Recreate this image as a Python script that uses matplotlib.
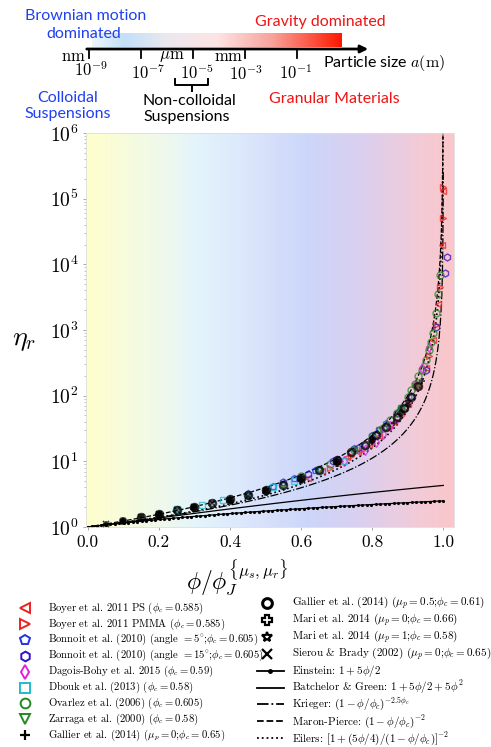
import numpy as np
import matplotlib
matplotlib.use('Agg')
import matplotlib.pyplot as plt
from matplotlib.colors import LinearSegmentedColormap

plt.rcParams['mathtext.fontset'] = 'cm'
plt.rcParams['font.family'] = 'serif'
plt.rcParams['font.serif'] = ['cmr10']
plt.rcParams['axes.formatter.use_mathtext'] = True

W, H = 491, 747

# --- data (x = phi/phi_J, y = eta_r) ---
boyer_ps_x = [0.62, 0.66, 0.70, 0.73, 0.76, 0.79, 0.82, 0.86, 0.88, 0.90, 0.93, 0.95, 0.97, 0.985, 0.995, 1.0]
boyer_ps_y = [5.5, 7.2, 9.5, 11.5, 14, 18, 24, 40, 55, 75, 140, 260, 700, 2500, 2.0e4, 1.3e5]
boyer_pmma_x = [0.68, 0.71, 0.74, 0.77, 0.80, 0.85, 0.89, 0.93, 0.96, 0.98, 0.99, 1.0, 1.0]
boyer_pmma_y = [8, 10, 12, 15, 19, 33, 60, 150, 400, 1200, 4500, 5e4, 1.5e5]
bonnoit5_x = [0.45, 0.52, 0.58, 0.64, 0.70, 0.75, 0.80, 0.84, 0.88]
bonnoit5_y = [3.3, 4.2, 5.5, 7.5, 11, 16, 25, 38, 65]
bonnoit15_x = [0.55, 0.62, 0.69, 0.76, 0.82, 0.87, 0.91, 0.95, 0.98, 1.01, 1.005]
bonnoit15_y = [4.8, 6.5, 10, 16, 30, 55, 100, 250, 1100, 1.3e4, 7400]
dagois_x = [0.72, 0.78, 0.81, 0.83, 0.85, 0.87, 0.90, 0.92, 0.94, 0.96]
dagois_y = [10, 15, 20, 26, 34, 45, 80, 140, 260, 550]
dbouk_x = [0.25, 0.32, 0.38, 0.45, 0.52, 0.58, 0.65, 0.72, 0.78]
dbouk_y = [1.9, 2.2, 2.6, 3.1, 4.0, 5.0, 7.5, 10, 17]
ovarlez_x = [0.60, 0.68, 0.75, 0.80, 0.83, 0.85, 0.87, 0.88, 0.90, 0.91, 0.92, 0.93,
             0.94, 0.95, 0.96, 0.965, 0.97, 0.98, 0.985, 0.99]
ovarlez_y = [6, 9, 15, 24, 32, 42, 55, 65, 95, 120, 150, 200, 250, 350, 500, 650,
             900, 1800, 3500, 7000]
zarraga_x = [0.45, 0.55, 0.65, 0.75, 0.82, 0.88, 0.92]
zarraga_y = [3.0, 4.3, 7.3, 15, 30, 65, 140]
gallier0_x = [0.05, 0.1, 0.15, 0.2, 0.3, 0.4, 0.5, 0.6, 0.7, 0.8, 0.86, 0.9, 0.94]
gallier0_y = [1.12, 1.25, 1.4, 1.55, 2.0, 2.6, 3.6, 5.2, 9, 20, 38, 70, 170]
gallier05_x = [0.15, 0.2, 0.25, 0.3, 0.35, 0.4, 0.45, 0.5, 0.55, 0.6, 0.65, 0.7,
               0.74, 0.78, 0.81, 0.84, 0.87, 0.89, 0.91, 0.93]
gallier05_y = [1.42, 1.6, 1.8, 2.05, 2.35, 2.7, 3.1, 3.6, 4.3, 5.5, 7.5, 10.5,
               14, 18, 25, 33, 48, 65, 95, 140]
mari0_x = [0.1, 0.2, 0.3, 0.4, 0.5, 0.6, 0.7, 0.8, 0.88]
mari0_y = [1.25, 1.55, 1.95, 2.5, 3.4, 5.2, 9.5, 21, 55]
mari1_x = [0.1, 0.2, 0.3, 0.4, 0.5, 0.6, 0.7, 0.8, 0.9]
mari1_y = [1.25, 1.6, 2.0, 2.7, 3.6, 5.5, 10, 22, 80]
sierou_x = [0.05, 0.1, 0.15, 0.2, 0.25, 0.3, 0.35, 0.4, 0.45, 0.5]
sierou_y = [1.12, 1.25, 1.4, 1.6, 1.8, 2.0, 2.3, 2.6, 3.0, 3.5]

phi_c = 0.6  # used for the model curves

size_exp = [-9, -7, -5, -3, -1]

fig = plt.figure(figsize=(W / 100, H / 100), dpi=100)

# overlay in pixel coords for the scale bar, captions and legend
ov = fig.add_axes([0, 0, 1, 1])
ov.axis('off')

def px(e):
    return 89 + (e + 9) * 26

bar_cmap = LinearSegmentedColormap.from_list('bar', [
    (0.0, '#eef6fc'), (0.13, '#c2e0f8'), (0.30, '#ebe8ef'),
    (0.50, '#fde4e4'), (0.72, '#f7a49c'), (1.0, '#ff1800')])
ov.imshow(np.linspace(0, 1, 256)[None, :], cmap=bar_cmap, aspect='auto',
          extent=[92, 342, 47, 33], zorder=1)
ov.annotate('', xy=(371, 49), xytext=(84, 49),
            arrowprops=dict(arrowstyle='-|>', lw=2.0, color='k',
                            mutation_scale=11), zorder=3)
for e in size_exp:
    ov.plot([px(e), px(e)], [49, 58], color='k', lw=1.3, zorder=3)
ov.text(px(-9) - 3, 56, r'$\mathrm{nm}$', ha='right', va='center', fontsize=12)
ov.text(172, 56, r'$\mu\mathrm{m}$', ha='center', va='center', fontsize=12)
ov.text(px(-3) - 2, 56, r'$\mathrm{mm}$', ha='right', va='center', fontsize=12)
exp_y = [70, 72, 72, 74, 73]
exp_dx = [2, 7, 4, 1, -1]
for e, yy, dx in zip(size_exp, exp_y, exp_dx):
    ov.text(px(e) + dx, yy, r'$10^{%d}$' % e, ha='center', va='center', fontsize=12)
ov.text(323, 63, r'Particle size $a(\mathrm{m})$', ha='left', va='center',
        fontsize=11.5, family='Lato')
# brace under 10^-5
ov.plot([175, 175, 208, 208], [79, 85, 85, 79], color='k', lw=1.4)
ov.plot([192, 192], [85, 91], color='k', lw=1.4)

blue = '#1f3ff0'
red = '#f01414'
sans = dict(family='Lato', fontsize=11.5)
ov.text(25, 16, 'Brownian motion', color=blue, ha='left', va='center', **sans)
ov.text(46, 34, 'dominated', color=blue, ha='left', va='center', **sans)
ov.text(255, 22, 'Gravity dominated', color=red, ha='left', va='center', **sans)
ov.text(68, 106, 'Colloidal\nSuspensions', color=blue, ha='center', va='center',
        linespacing=1.25, **sans)
ov.text(143, 109, 'Non-colloidal\nSuspensions', color='k', ha='left', va='center',
        linespacing=1.25, **sans)
ov.text(269, 99, 'Granular Materials', color=red, ha='left', va='center', **sans)
ov.text(24, 340, r'$\eta_r$', fontsize=20, ha='center', va='center')
ov.text(237, 577, r'$\phi/\phi_J^{\{\mu_s,\mu_r\}}$', fontsize=17, ha='center', va='center')

# main axes
ax = fig.add_axes([86 / W, 1 - 527 / H, 368 / W, 394 / H])
bg_cmap = LinearSegmentedColormap.from_list('bg', [
    (0.0, '#ffffcc'), (0.22, '#eef8ee'), (0.30, '#e4f4fc'), (0.48, '#d8e2fb'),
    (0.60, '#ccd6fa'), (0.76, '#dccfee'), (0.90, '#f2cbd8'), (1.0, '#fbc6ca')])
ax.imshow(np.linspace(0, 1, 256)[None, :], cmap=bg_cmap, aspect='auto',
          extent=[0, 1, 0, 1], transform=ax.transAxes, zorder=0)

sets = [
    (boyer_ps_x, boyer_ps_y, '<', '#ee2020', 1.0, r'Boyer et al. 2011 PS ($\phi_c=0.585$)'),
    (boyer_pmma_x, boyer_pmma_y, '>', '#ee2020', 1.0, r'Boyer et al. 2011 PMMA ($\phi_c=0.585$)'),
    (bonnoit5_x, bonnoit5_y, 'p', '#2233dd', 1.0,
     r'Bonnoit et al. (2010) (angle $=5^{\circ}$;$\phi_c=0.605$)'),
    (bonnoit15_x, bonnoit15_y, 'h', '#3010c8', 1.0,
     r'Bonnoit et al. (2010) (angle $=15^{\circ}$;$\phi_c$$=0.605$)'),
    (dagois_x, dagois_y, 'd', '#dd22dd', 1.0, r'Dagois-Bohy et al. 2015 ($\phi_c=0.59$)'),
    (dbouk_x, dbouk_y, 's', '#22bbcc', 1.0, r'Dbouk et al. (2013) ($\phi_c=0.58$)'),
    (ovarlez_x, ovarlez_y, 'o', '#228822', 1.0, r'Ovarlez et al. (2006) ($\phi_c=0.605$)'),
    (zarraga_x, zarraga_y, 'v', '#228822', 1.0, r'Zarraga et al. (2000) ($\phi_c=0.58$)'),
    (gallier0_x, gallier0_y, '+', 'k', 1.2, r'Gallier et al. (2014) ($\mu_p=0$;$\phi_c=0.65$)'),
    (gallier05_x, gallier05_y, 'o', 'k', 1.8, r'Gallier et al. (2014) ($\mu_p=0.5$;$\phi_c=0.61$)'),
    (mari0_x, mari0_y, 'P', 'k', 1.2, r'Mari et al. 2014 ($\mu_p=0$;$\phi_c=0.66$)'),
    (mari1_x, mari1_y, '*', 'k', 1.2, r'Mari et al. 2014 ($\mu_p=1$;$\phi_c=0.58$)'),
    (sierou_x, sierou_y, 'x', 'k', 1.2, r'Sierou & Brady (2002) ($\mu_p=0$;$\phi_c=0.65$)'),
]
for xs, ys, m, c, mew, lab in sets:
    filled = m in ('+', 'x')
    ax.plot(xs, ys, ls='none', marker=m, ms=5, mew=mew, color=c,
            mfc=c if filled else 'none', mec=c, alpha=0.75, zorder=3)

x_lin = np.linspace(0, 1, 80)
x_div = 1 - np.logspace(0, -3.6, 500)
phi_l = x_lin * phi_c
phi_d = x_div * phi_c
ax.plot(x_lin, 1 + 2.5 * phi_l, '-', color='k', lw=0.9, marker='.', ms=2.5, zorder=2)
ax.plot(x_lin, 1 + 2.5 * phi_l + 5 * phi_l ** 2, '-', color='k', lw=0.9, zorder=2)
ax.plot(x_div, (1 - x_div) ** (-2.5 * phi_c), '-.', color='k', lw=0.9, zorder=2)
ax.plot(x_div, (1 - x_div) ** -2, '--', color='k', lw=0.9, zorder=2)
ax.plot(x_div, (1 + 1.25 * phi_d / (1 - x_div)) ** 2, ':', color='k', lw=1.2, zorder=2)

ax.set_yscale('log')
ax.set_ylim(1, 1e6)
ax.set_xlim(-0.005, 1.03)
ax.set_xticks([0.0, 0.2, 0.4, 0.6, 0.8, 1.0])
ax.set_xticklabels(['0.0', '0.2', '0.4', '0.6', '0.8', '1.0'])
ax.set_yticks([1, 1e1, 1e2, 1e3, 1e4, 1e5, 1e6])
ax.tick_params(axis='x', labelsize=12.5)
ax.tick_params(axis='y', labelsize=14)
ax.tick_params(colors='#999999', labelcolor='k', length=2, width=0.6)
ax.tick_params(which='minor', colors='#aaaaaa', length=1.5, width=0.5)
for s in ax.spines.values():
    s.set_color('#dddddd')
    s.set_linewidth(0.6)

# legend, two columns drawn row by row
for i, (xs, ys, m, c, mew, lab) in enumerate(sets):
    if i < 9:
        hx, tx, y, fs = 25, 48, 608 + i * 15.9, 7.7
    else:
        hx, tx, y, fs = 267, 292, 603 + (i - 9) * 16.9, 8
    filled = m in ('+', 'x')
    ov.plot([hx], [y], ls='none', marker=m, ms=7, mew=mew + 0.4, color=c,
            mfc=c if filled else 'none', mec=c)
    ov.text(tx, y, lab, family='cmr10', fontsize=fs, ha='left', va='center')

line_items = [
    ('-', '.', r'Einstein: $1+5\phi/2$'),
    ('-', '', r'Batchelor & Green: $1+5\phi/2+5\phi^2$'),
    ('-.', '', r'Krieger: $(1-\phi/\phi_c)^{-2.5\phi_c}$'),
    ('--', '', r'Maron-Pierce: $(1-\phi/\phi_c)^{-2}$'),
    (':', '', r'Eilers: $[1+(5\phi/4)/(1-\phi/\phi_c)]^{-2}$'),
]
for j, (ls, mk, lab) in enumerate(line_items):
    y = 603 + (4 + j) * 16.9
    ov.plot([257, 284], [y, y], ls=ls, color='k', lw=1.3)
    if mk:
        ov.plot([270.5], [y], marker='o', ms=2.5, color='k')
    ov.text(292, y, lab, family='cmr10', fontsize=8, ha='left', va='center')

ov.set_xlim(0, W)
ov.set_ylim(H, 0)

fig.savefig('out.png', dpi=100)
